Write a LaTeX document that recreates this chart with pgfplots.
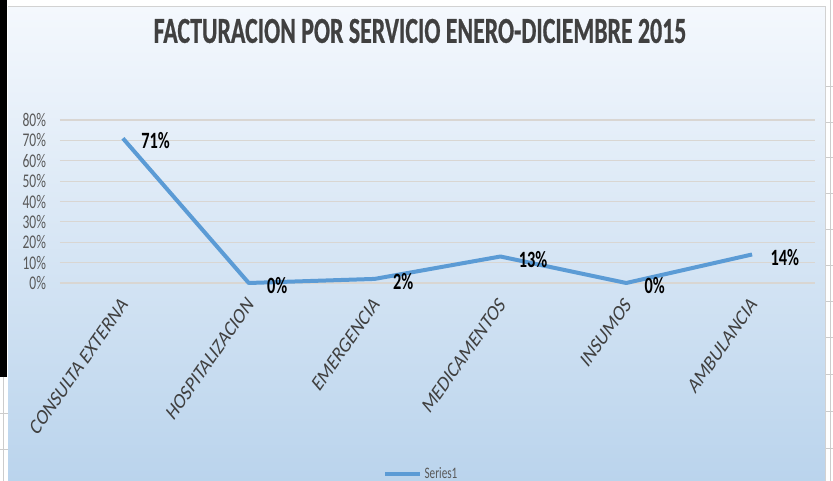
\documentclass[border=0pt]{standalone}
\usepackage{pgfplots}
\pgfplotsset{compat=1.18}
\usepackage{fontspec}
\setmainfont{Carlito}
\newfontfamily\condfont[FakeStretch=0.7]{Carlito}
\newfontfamily\titlefont[FakeStretch=0.65,FakeBold=0.6]{Carlito}
\newfontfamily\slfont[FakeSlant=0.25]{Carlito}
\definecolor{linec}{HTML}{5B9BD5}
\definecolor{gridc}{HTML}{D9D6D2}
\definecolor{titlec}{HTML}{404040}
\definecolor{tickc}{HTML}{595959}
\definecolor{bgtop}{HTML}{F4F8FD}
\definecolor{bgbot}{HTML}{B9D3EC}
\begin{document}
\begin{tikzpicture}
\useasboundingbox (0,0) rectangle (624.75pt,360.75pt);
\clip (0,0) rectangle (624.75pt,360.75pt);
\fill[white] (0,0) rectangle (624.75pt,360.75pt);
\begin{scope}[x=0.75pt,y=-0.75pt,shift={(0,360.75pt)}]
  % spreadsheet remnants
  \fill[black] (0,0) rectangle (7,377);
  \draw[gray!40,line width=0.5pt] (3,377) -- (3,481);
  \foreach \yy in {413,449} {\draw[gray!40] (0,\yy) -- (8,\yy);}
  \foreach \yy in {86,122,157,193,229,265,301,337,374,411,448} {\draw[gray!40] (825,\yy) -- (833,\yy);}
  \draw[gray!40] (830,0) -- (830,481);
  % chart area
  \shade[top color=bgtop,bottom color=bgbot] (8,7) rectangle (825,490);
  \draw[gray!35,line width=0.75pt] (8,7) -- (825,7) -- (825,490);
  \node[text=titlec,font={\titlefont\bfseries\fontsize{27.5}{30}\selectfont}] at (420,31) {FACTURACION POR SERVICIO ENERO-DICIEMBRE 2015};
\end{scope}
\begin{axis}[
  at={(45pt,148.5pt)}, anchor=south west,
  scale only axis, width=566.25pt, height=122.25pt,
  xmin=-0.5, xmax=5.5, ymin=0, ymax=0.8,
  clip=false,
  axis line style={draw=none},
  major tick style={draw=none},
  ymajorgrids, grid style={gridc,line width=0.8pt},
  ytick={0,0.1,0.2,0.3,0.4,0.5,0.6,0.7,0.8},
  yticklabels={0\%,10\%,20\%,30\%,40\%,50\%,60\%,70\%,80\%},
  yticklabel style={text=tickc,font={\condfont\fontsize{14.5}{15}\selectfont},xshift=-7pt},
  xtick={0,1,2,3,4,5},
  xticklabels={CONSULTA EXTERNA,HOSPITALIZACION,EMERGENCIA,MEDICAMENTOS,INSUMOS,AMBULANCIA},
  xticklabel style={xshift=2.5pt,yshift=-11.5pt,rotate=55,anchor=east,text=titlec,font={\slfont\fontsize{14.5}{15}\selectfont}},
  legend style={at={(0.479,-1.17)},anchor=center,draw=none,fill=none,text=tickc,font={\condfont\fontsize{12}{13}\selectfont}},
  legend image code/.code={\draw[line width=3pt,#1] (0pt,0pt) -- (26pt,0pt);},
]
\addplot[linec,line width=3pt,line join=round,
  point meta={y*100},
  nodes near coords={\pgfmathprintnumber[fixed,precision=0,assume math mode=true]{\pgfplotspointmeta}\%},
  nodes near coords style={anchor=west,xshift=9pt,yshift=-2pt,text=black,font={\condfont\bfseries\fontsize{17.5}{18}\selectfont}},
] coordinates {(0,0.71) (1,0) (2,0.02) (3,0.13) (4,0) (5,0.14)};
\legend{Series1}
\end{axis}
\end{tikzpicture}
\end{document}
